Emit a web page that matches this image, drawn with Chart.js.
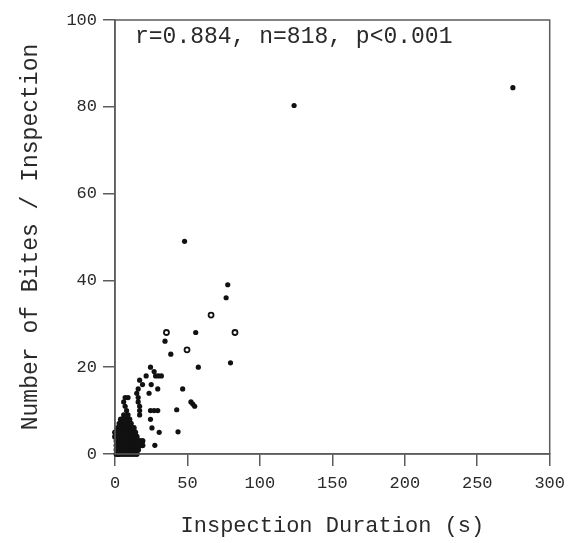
<!DOCTYPE html>
<html>
<head>
<meta charset="utf-8">
<script src="https://cdn.jsdelivr.net/npm/chart.js@4.4.1/dist/chart.umd.min.js"></script>
<style>
  html, body { margin: 0; padding: 0; background: #fff; }
  #wrap { width: 572px; height: 543px; }
</style>
</head>
<body>
<div id="wrap"><canvas id="chart"></canvas></div>
<script>
// --- DATA ---
// [duration (s), bites]
const dense = [
  [1,0],[2,0],[3,0],[5,0],[7,0],[9,0],[11,0],[13,0],[15,0],
  [1,1],[3,1],[5,1],[7,1],[9,1],[11,1],[13,1],[15,1],[16,1],
  [1,2],[3,2],[5,2],[7,2],[9,2],[11,2],[13,2],[15,2],[17,2],[19,2],
  [1,3],[3,3],[5,3],[7,3],[9,3],[11,3],[13,3],[15,3],[17,3],[19,3],
  [0,4],[1,4],[3,4],[5,4],[7,4],[9,4],[11,4],[13,4],[15,4],
  [0,5],[1,5],[3,5],[5,5],[7,5],[9,5],[11,5],[13,5],[14,5],
  [2,6],[4,6],[6,6],[8,6],[10,6],[12,6],[13,6],
  [3,7],[5,7],[7,7],[9,7],[11,7],
  [4,8],[6,8],[8,8],[10,8]
];
const scatter = [
  [6,9],[9,9],[8,10],[7,11],[6,12],[9,13],[7,13],
  [17,9],[17,10],[17,11],[16,12],[16,13],[15,14],[16,15],[17,17],[19,16],
  [21.5,18],[24.5,20],[27,19],[28,18],[30,18],[32,18],
  [25,16],[29.5,15],[23.5,14],[24.5,10],[27,10],[29.5,10],
  [24.5,8],[25.5,6],[30.5,5],[27.5,2],
  [34.5,26],[38.5,23],[55.7,28],[57.5,20],[46.7,15],[42.6,10.2],[43.5,5.1],
  [52.4,12],[53.7,11.5],[55,11],[79.7,21],[76.7,36],[77.8,39],[48,49],
  [123.6,80.3],[274.6,84.4]
];
const openPts = [[35.5,28],[49.7,24],[66.3,32],[82.8,28]];

const xTicks = [0, 50, 100, 150, 200, 250, 300];
const yTicks = [0, 20, 40, 60, 80, 100];
const statsText = "r=0.884, n=818, p<0.001";

// --- STYLE ---
const FONT = "'Liberation Mono', 'DejaVu Sans Mono', monospace";
const INK = "#2a2a2a";
const AXIS = "#5c5c5c";

const toXY = (arr) => arr.map(([x, y]) => ({ x, y }));

// frame + stats label
const framePlugin = {
  id: "frame",
  afterDraw(chart) {
    const { ctx, chartArea: a } = chart;
    ctx.save();
    ctx.strokeStyle = AXIS;
    ctx.lineWidth = 1.5;
    ctx.strokeRect(a.left, a.top, a.right - a.left, a.bottom - a.top);
    ctx.fillStyle = INK;
    ctx.font = `23px ${FONT}`;
    ctx.textBaseline = "alphabetic";
    ctx.textAlign = "left";
    ctx.fillText(statsText, a.left + 20, a.top + 23);
    ctx.restore();
  },
};

const tickOpts = (vals) => ({
  color: INK,
  font: { family: FONT, size: 17 },
  padding: 6,
  autoSkip: false,
  maxRotation: 0,
  callback: (v) => (vals.includes(v) ? String(v) : ""),
});

new Chart(document.getElementById("chart"), {
  type: "scatter",
  data: {
    datasets: [
      {
        data: toXY(dense),
        pointRadius: 2.9,
        pointBackgroundColor: "#111",
        pointBorderWidth: 0,
        clip: false,
      },
      {
        data: toXY(scatter),
        pointRadius: 2.6,
        pointBackgroundColor: "#111",
        pointBorderWidth: 0,
        clip: false,
      },
      {
        data: toXY(openPts),
        pointRadius: 2.5,
        pointBackgroundColor: "#fff",
        pointBorderColor: "#111",
        pointBorderWidth: 1.8,
        clip: false,
      },
    ],
  },
  options: {
    responsive: true,
    maintainAspectRatio: false,
    animation: false,
    events: [],
    layout: { padding: { left: 0, right: 15, top: 20, bottom: 0 } },
    plugins: { legend: { display: false }, tooltip: { enabled: false } },
    scales: {
      x: {
        type: "linear",
        min: 0,
        max: 300,
        ticks: { ...tickOpts(xTicks), stepSize: 50, padding: 7 },
        grid: { drawOnChartArea: false, tickLength: 12, color: AXIS, lineWidth: 1.5 },
        border: { color: AXIS, width: 1.5 },
        title: {
          display: true,
          text: "Inspection Duration (s)",
          color: INK,
          font: { family: FONT, size: 22 },
          padding: { top: 0, bottom: 4 },
        },
        afterFit: (s) => { s.height = 89; },
      },
      y: {
        type: "linear",
        min: 0,
        max: 100,
        ticks: { ...tickOpts(yTicks), stepSize: 20 },
        grid: { drawOnChartArea: false, tickLength: 12, color: AXIS, lineWidth: 1.5 },
        border: { color: AXIS, width: 1.5 },
        title: {
          display: true,
          text: "Number of Bites / Inspection",
          color: INK,
          font: { family: FONT, size: 23 },
          padding: { top: 17, bottom: 0 },
        },
        afterFit: (s) => { s.width = 115; },
      },
    },
  },
  plugins: [framePlugin],
});
</script>
</body>
</html>
